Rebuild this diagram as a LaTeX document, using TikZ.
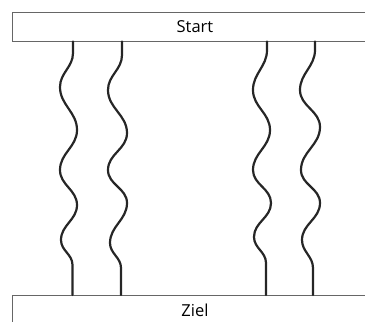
\documentclass[tikz,border=0pt]{standalone}
\usepackage{fontspec}
\setmainfont{Open Sans}
\begin{document}
\begin{tikzpicture}[x=1pt,y=-1pt,
  box/.style={draw=black!60, line width=1pt, minimum width=366pt, minimum height=29pt, inner sep=0pt, font=\fontsize{16.5}{18}\selectfont},
  wave/.style={line width=2.2pt, black!85, line cap=round}]
\useasboundingbox (0,0) rectangle (365,322);
\clip (0,0) rectangle (365,322);
\node[box] (start) at (195,26.5) {Start};
\node[box, anchor=north] (ziel) at (195,295) {\raisebox{-7.5pt}{Ziel}\hspace{5pt}};
\coordinate (a) at (73,0);
\coordinate (b) at (122,0);
\coordinate (c) at (267,0);
\coordinate (d) at (315,0);
\coordinate (a2) at (72.5,0);
\coordinate (b2) at (121,0);
\coordinate (c2) at (266,0);
\coordinate (d2) at (313,0);
\draw[wave] (start.south -| a) -- (73,53) to[out=-90,in=90] (60,87) to[out=-90,in=90] (77,130) to[out=-90,in=90] (60,170) to[out=-90,in=90] (77,205) to[out=-90,in=90] (61,240) to[out=-90,in=90] (72.5,265) -- (ziel.north -| a2);
\draw[wave] (start.south -| b) -- (122,55) to[out=-90,in=90] (108,90) to[out=-90,in=90] (127,133) to[out=-90,in=90] (108,170) to[out=-90,in=90] (127,203) to[out=-90,in=90] (110,243) to[out=-90,in=90] (121,268) -- (ziel.north -| b2);
\draw[wave] (start.south -| c) -- (267,50) to[out=-90,in=90] (253,90) to[out=-90,in=90] (270,130) to[out=-90,in=90] (253,170) to[out=-90,in=90] (271,203) to[out=-90,in=90] (254,237) to[out=-90,in=90] (266,263) -- (ziel.north -| c2);
\draw[wave] (start.south -| d) -- (315,50) to[out=-90,in=90] (300,90) to[out=-90,in=90] (320,127) to[out=-90,in=90] (301,170) to[out=-90,in=90] (320,203) to[out=-90,in=90] (302,240) to[out=-90,in=90] (313,268) -- (ziel.north -| d2);
\end{tikzpicture}
\end{document}
